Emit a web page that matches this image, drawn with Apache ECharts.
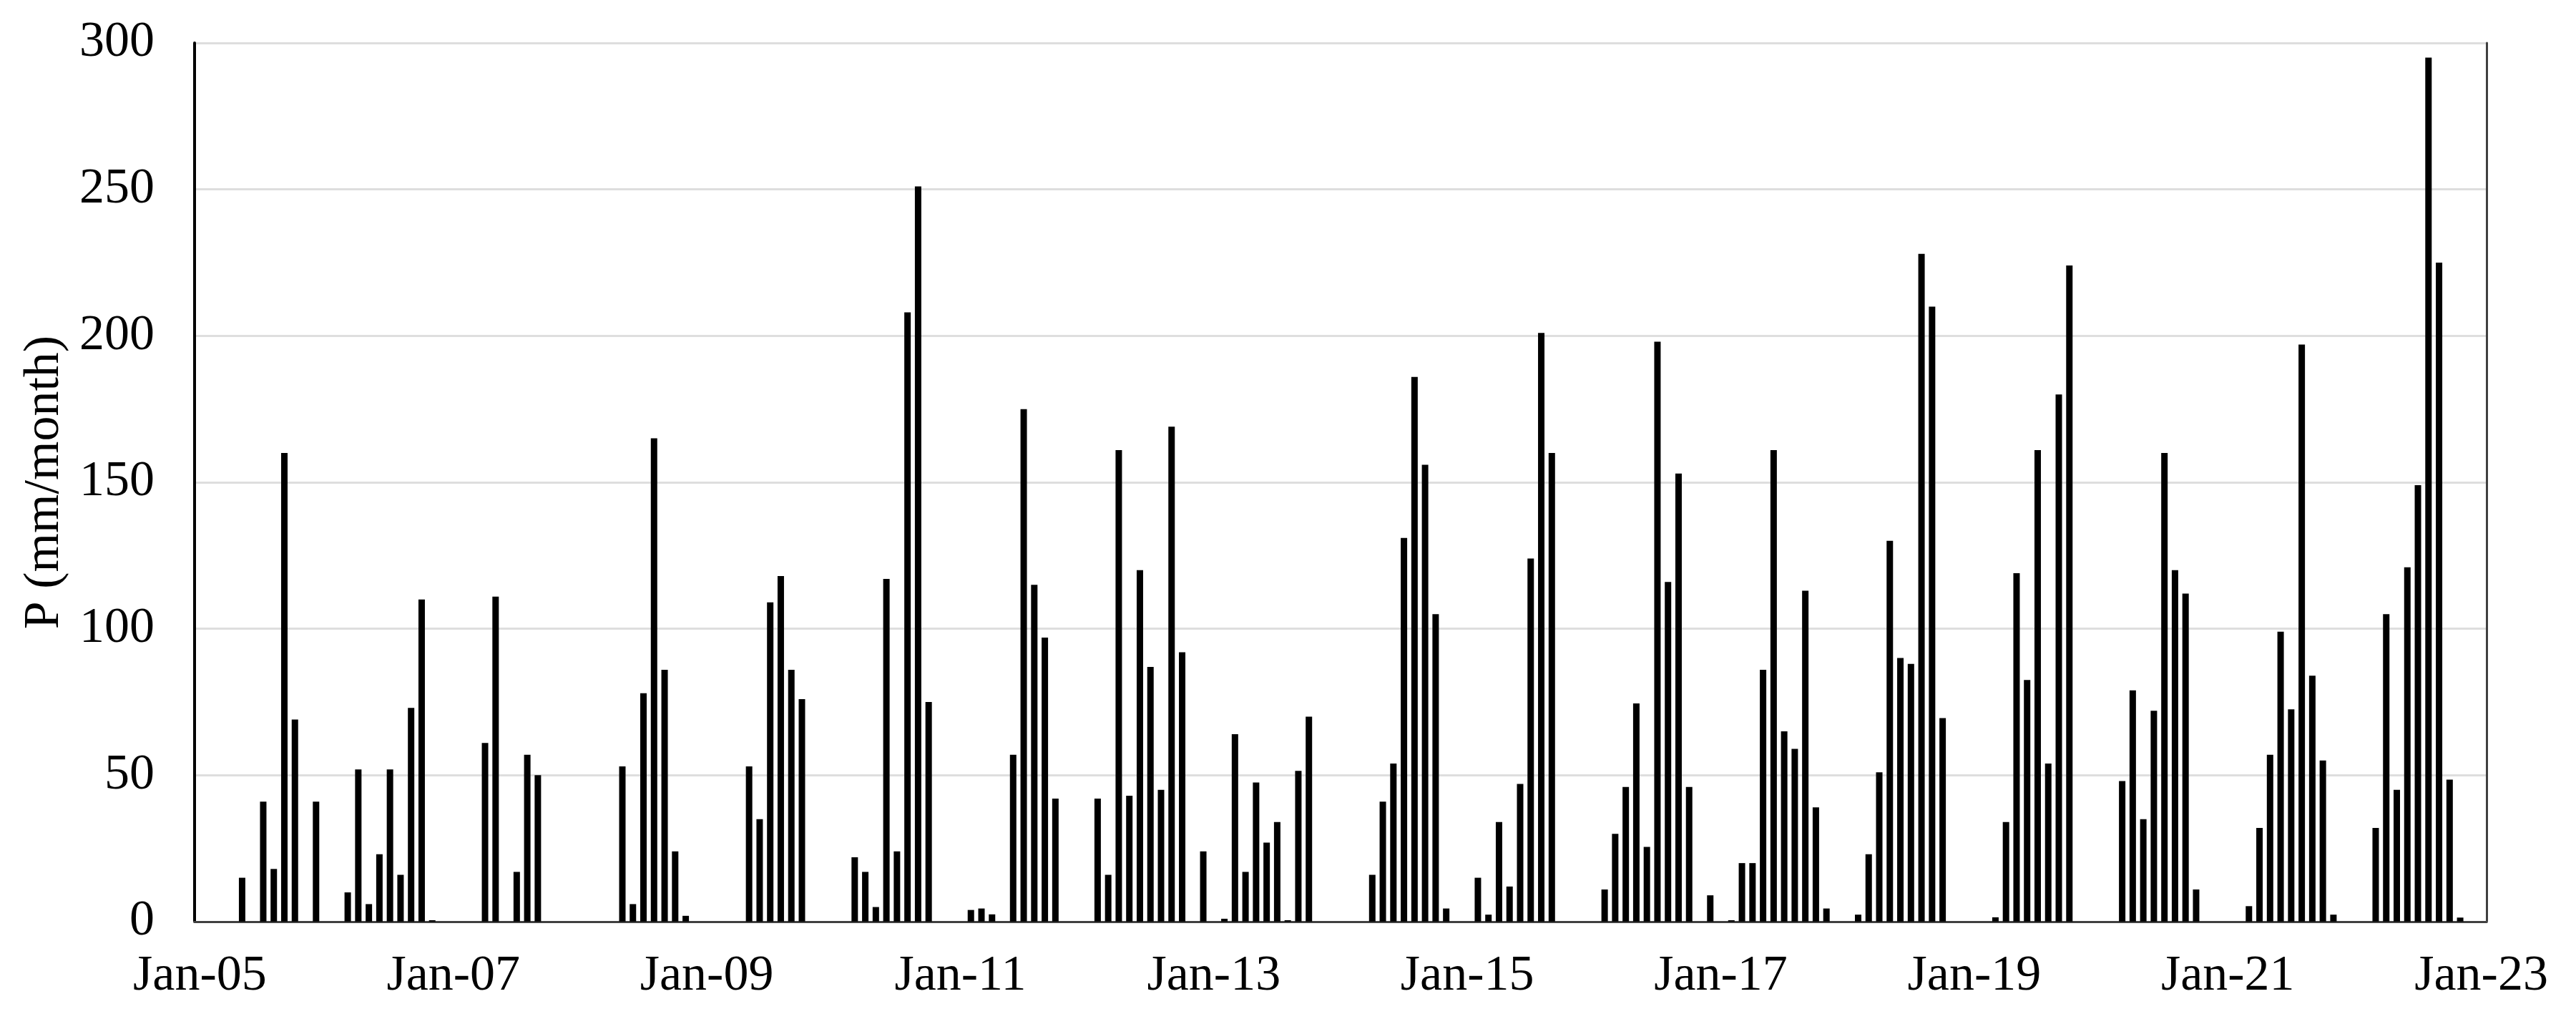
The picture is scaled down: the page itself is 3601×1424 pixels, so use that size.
<!DOCTYPE html>
<html lang="en">
<head>
    <meta charset="UTF-8">
    <title>Monthly precipitation</title>
    <style>
        html, body { margin: 0; padding: 0; background: #fff; }
    </style>
</head>
<body>
    <div id="main" style="width: 3601px;height:1424px;"></div>

    <script src="https://cdn.jsdelivr.net/npm/echarts@6/dist/echarts.min.js"></script>
    <script>
        // month names for the category labels
        var monthNames = ['Jan', 'Feb', 'Mar', 'Apr', 'May', 'Jun', 'Jul', 'Aug', 'Sep', 'Oct', 'Nov', 'Dec'];
        var firstYear = 2005;
        var lastYear = 2023; // only Jan of the last year

        // y axis ticks
        var yMin = 0;
        var yMax = 300;
        var yStep = 50;

        // monthly P (mm/month), one row per year Jan..Dec, null = no bar
        var p2005 = [null, null, null, null, 15, null, 41, 18, 160, 69, null, 41];
        var p2006 = [null, null, 10, 52, 6, 23, 52, 16, 73, 110, 0.5, null];
        var p2007 = [null, null, null, 61, 111, null, 17, 57, 50, null, null, null];
        var p2008 = [null, null, null, null, 53, 6, 78, 165, 86, 24, 2, null];
        var p2009 = [null, null, null, null, 53, 35, 109, 118, 86, 76, null, null];
        var p2010 = [null, null, 22, 17, 5, 117, 24, 208, 251, 75, null, null];
        var p2011 = [null, 4, 4.5, 2.5, null, 57, 175, 115, 97, 42, null, null];
        var p2012 = [null, 42, 16, 161, 43, 120, 87, 45, 169, 92, null, 24];
        var p2013 = [null, 1, 64, 17, 47.5, 27, 34, 0.5, 51.5, 70, null, null];
        var p2014 = [null, null, null, 16, 41, 54, 131, 186, 156, 105, 4.5, null];
        var p2015 = [null, 15, 2.4, 34, 12, 47, 124, 201, 160, null, null, null];
        var p2016 = [null, 11, 30, 46, 74.5, 25.5, 198, 116, 153, 46, null, 9];
        var p2017 = [null, 0.5, 20, 20, 86, 161, 65, 59, 113, 39, 4.5, null];
        var p2018 = [null, 2.4, 23, 51, 130, 90, 88, 228, 210, 69.5, null, null];
        var p2019 = [null, null, 1.5, 34, 119, 82.5, 161, 54, 180, 224, null, null];
        var p2020 = [null, null, 48, 79, 35, 72, 160, 120, 112, 11, null, null];
        var p2021 = [null, null, 5.3, 32, 57, 99, 72.5, 197, 84, 55, 2.4, null];
        var p2022 = [null, null, 32, 105, 45, 121, 149, 295, 225, 48.5, 1.4, null];
        var p2023 = [null];

        var pData = [].concat(p2005, p2006, p2007, p2008, p2009, p2010, p2011, p2012,
            p2013, p2014, p2015, p2016, p2017, p2018, p2019, p2020, p2021, p2022, p2023);

        // category labels like Jan-05
        var months = [];
        for (var y = firstYear; y <= lastYear; y++) {
            var yy = String(y % 100).padStart(2, '0');
            for (var m = 0; m < 12; m++) {
                if (y === lastYear && m > 0) break;
                months.push(monthNames[m] + '-' + yy);
            }
        }

        var font = 'Liberation Serif';

        var myChart = echarts.init(document.getElementById('main'));
        var option = {
            animation: false,
            backgroundColor: '#fff',
            grid: {
                left: 272,
                right: 125,
                top: 60,
                bottom: 136
            },
            xAxis: [
                {
                    type: 'category',
                    data: months,
                    boundaryGap: true,
                    axisLine: { show: true, lineStyle: { color: '#d9d9d9', width: 3 } },
                    axisTick: { show: false },
                    axisLabel: {
                        interval: 23,
                        margin: 42,
                        color: '#000',
                        fontFamily: font,
                        fontSize: 70
                    },
                    splitLine: { show: false }
                },
                {
                    // top border of the plot area
                    type: 'category',
                    data: months,
                    position: 'top',
                    axisLine: { show: true, lineStyle: { color: '#404040', width: 3 } },
                    axisTick: { show: false },
                    axisLabel: { show: false },
                    splitLine: { show: false }
                }
            ],
            yAxis: [
                {
                    type: 'value',
                    min: yMin,
                    max: yMax,
                    interval: yStep,
                    name: 'P (mm/month)',
                    nameLocation: 'middle',
                    nameGap: 174,
                    nameTextStyle: {
                        color: '#000',
                        fontFamily: font,
                        fontSize: 70
                    },
                    axisLine: { show: true, lineStyle: { color: '#000', width: 4 } },
                    axisTick: { show: false },
                    axisLabel: {
                        margin: 56,
                        color: '#000',
                        fontFamily: font,
                        fontSize: 70
                    },
                    splitLine: { show: true, lineStyle: { color: '#dedede', width: 3 } }
                },
                {
                    // right border of the plot area
                    type: 'value',
                    min: yMin,
                    max: yMax,
                    interval: yStep,
                    position: 'right',
                    axisLine: { show: true, lineStyle: { color: '#404040', width: 3 } },
                    axisTick: { show: false },
                    axisLabel: { show: false },
                    splitLine: { show: false }
                }
            ],
            series: [
                {
                    name: 'P',
                    type: 'bar',
                    data: pData,
                    barWidth: 9,
                    itemStyle: { color: '#000' }
                }
            ]
        };

        option && myChart.setOption(option);
    </script>
</body>
</html>
